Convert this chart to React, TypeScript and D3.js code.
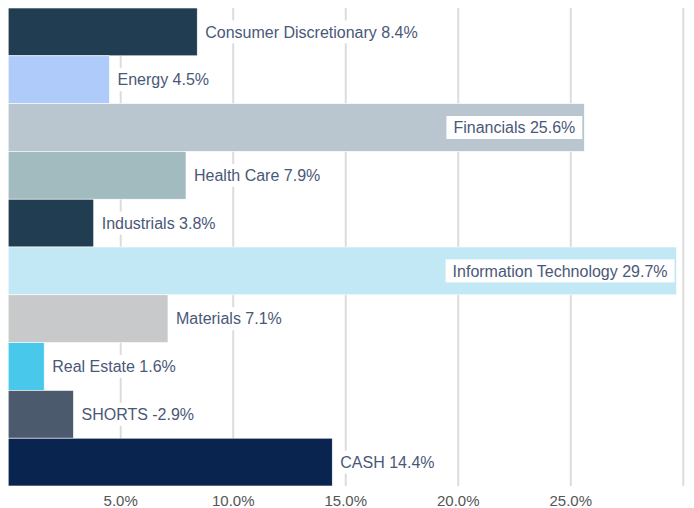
import React, { useEffect, useRef } from "react";
import * as d3 from "d3";

const categories = [
  "Consumer Discretionary",
  "Energy",
  "Financials",
  "Health Care",
  "Industrials",
  "Information Technology",
  "Materials",
  "Real Estate",
  "SHORTS",
  "CASH",
];
const values = [8.4, 4.5, 25.6, 7.9, 3.8, 29.7, 7.1, 1.6, -2.9, 14.4];
const colors = [
  "#213d51",
  "#aecbfa",
  "#b9c6d0",
  "#a2bbbf",
  "#213d51",
  "#c2e8f6",
  "#c8c9cb",
  "#48c8ea",
  "#4b5a6c",
  "#0a2450",
];
const tickValues = [5, 10, 15, 20, 25, 30];

const W = 694;
const H = 508;
const M = { left: 8.2, right: 10.7, top: 8, bottom: 22 };

export default function App() {
  const ref = useRef<SVGSVGElement>(null);

  useEffect(() => {
    const svg = d3.select(ref.current);
    svg.selectAll("*").remove();

    const x = d3.scaleLinear().domain([0, 30]).range([M.left, W - M.right]);
    const y = d3
      .scaleBand()
      .domain(categories)
      .range([M.top, H - M.bottom])
      .padding(0);

    const font = "'Liberation Sans', Arial, sans-serif";

    // gridlines
    svg
      .append("g")
      .selectAll("line")
      .data(tickValues)
      .join("line")
      .attr("x1", (d) => x(d))
      .attr("x2", (d) => x(d))
      .attr("y1", M.top)
      .attr("y2", H - M.bottom)
      .attr("stroke", "#dcdcdc")
      .attr("stroke-width", 2);

    // tick labels
    svg
      .append("g")
      .selectAll("text")
      .data(tickValues.filter((d) => d < 30))
      .join("text")
      .attr("x", (d) => x(d))
      .attr("y", H - 2)
      .attr("text-anchor", "middle")
      .attr("font-family", font)
      .attr("font-size", 15)
      .attr("fill", "#555555")
      .text((d) => d3.format(".1f")(d) + "%");

    const data = categories.map((c, i) => ({ c, v: values[i], color: colors[i] }));

    // bars
    svg
      .append("g")
      .selectAll("rect")
      .data(data)
      .join("rect")
      .attr("x", x(0))
      .attr("y", (d) => y(d.c)!)
      .attr("width", (d) => x(Math.abs(d.v)) - x(0))
      .attr("height", y.bandwidth())
      .attr("fill", (d) => d.color)
      .attr("stroke", "#ffffff")
      .attr("stroke-width", 0.6);

    // labels
    const lg = svg.append("g");
    data.forEach((d) => {
      const g = lg.append("g");
      const label = `${d.c} ${d.v.toFixed(1)}%`;
      const t = g
        .append("text")
        .attr("font-family", font)
        .attr("font-size", 16)
        .attr("fill", "#4a5878")
        .attr("dy", "0.35em")
        .attr("y", y(d.c)! + y.bandwidth() / 2)
        .text(label);
      const tw = (t.node() as SVGTextElement).getComputedTextLength();
      const end = x(Math.abs(d.v));
      const pad = 7;
      const inside = end + 2 + tw + pad * 2 > W - M.right;
      const bx = inside ? end - 2 - tw - pad * 2 : end + 1;
      t.attr("x", bx + pad);
      g.insert("rect", "text")
        .attr("x", bx)
        .attr("y", y(d.c)! + y.bandwidth() / 2 - 11.5)
        .attr("width", tw + pad * 2)
        .attr("height", 23)
        .attr("fill", "#ffffff");
    });
  }, []);

  return (
    <svg
      ref={ref}
      width={W}
      height={H}
      style={{ position: "absolute", left: 0, top: 0, background: "#fff" }}
    />
  );
}
